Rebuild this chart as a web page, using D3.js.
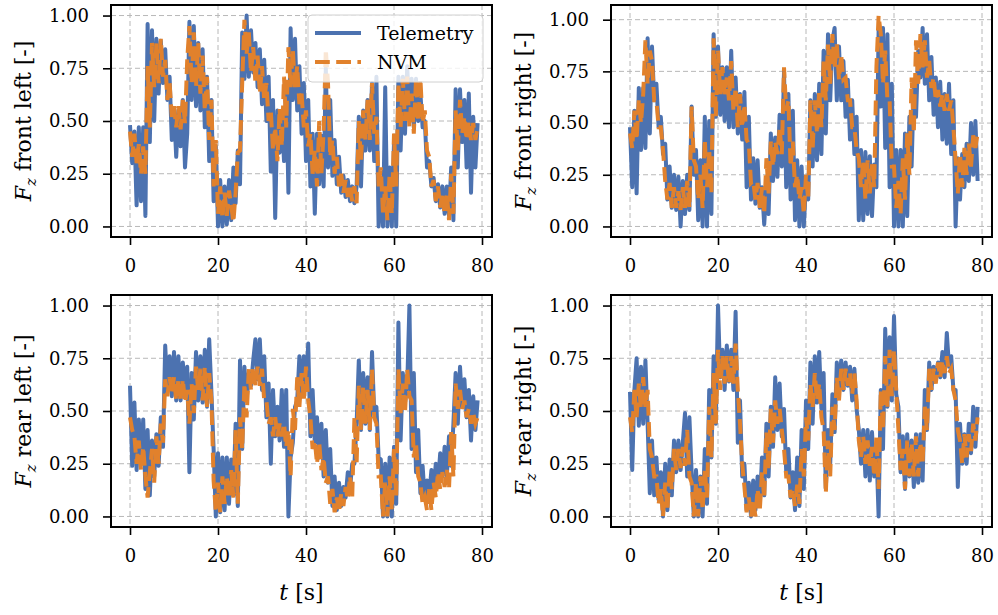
<!DOCTYPE html>
<html>
<head>
<meta charset="utf-8">
<script src="https://cdn.jsdelivr.net/npm/d3@7"></script>
<style>
  html, body { margin: 0; padding: 0; background: #ffffff; }
  svg { display: block; }
  text { font-family: "DejaVu Serif", "Liberation Serif", serif; fill: #000; }
</style>
</head>
<body>
<svg id="chart" width="998" height="615"></svg>
<script>
// ---- data (sampled every 0.5 s, t = 0 ... 79 s) ----
const sampleStep = 0.5;
const xTicks = [0, 20, 40, 60, 80];
const yTicks = [0, 0.25, 0.5, 0.75, 1.0];
const seriesNames = ["Telemetry", "NVM"];
const panelLabels = ["front left", "front right", "rear left", "rear right"];
const timeLabel = "t";
const timeUnit = "[s]";

const telemetryFL = [
0.48,0.30,0.45,0.10,0.47,0.12,0.47,0.05,0.96,0.40,
0.93,0.50,0.89,0.63,0.88,0.68,0.84,0.60,0.71,0.41,
0.55,0.33,0.55,0.38,0.60,0.28,0.44,0.97,0.60,0.95,
0.57,0.87,0.55,0.84,0.47,0.71,0.31,0.60,0.12,0.38,
0.00,0.22,0.00,0.19,0.01,0.22,0.03,0.28,0.11,0.36,
0.20,0.92,0.70,1.00,0.71,0.93,0.73,0.87,0.66,0.84,
0.58,0.79,0.50,0.71,0.26,0.60,0.04,0.55,0.35,0.54,
0.31,0.68,0.16,0.94,0.60,0.89,0.55,0.76,0.44,0.68,
0.31,0.60,0.19,0.44,0.06,0.44,0.20,0.43,0.19,0.75,
0.28,0.60,0.24,0.41,0.20,0.33,0.16,0.24,0.14,0.22,
0.12,0.19,0.11,0.19,0.52,0.19,0.55,0.36,0.60,0.36,
0.68,0.31,0.71,0.00,0.23,0.00,0.66,0.00,0.28,0.00,
0.40,0.00,0.71,0.36,0.71,0.44,0.76,0.52,0.70,0.47,
0.70,0.50,0.63,0.47,0.50,0.28,0.31,0.19,0.23,0.12,
0.20,0.09,0.19,0.06,0.19,0.05,0.28,0.03,0.65,0.28,
0.65,0.40,0.60,0.28,0.63,0.16,0.52,0.28,0.49
];
const nvmFL = [
0.45,0.33,0.44,0.30,0.39,0.25,0.38,0.25,0.76,0.47,
0.87,0.66,0.87,0.68,0.89,0.71,0.79,0.60,0.68,0.52,
0.57,0.47,0.57,0.46,0.60,0.49,0.79,0.95,0.68,0.92,
0.66,0.87,0.63,0.81,0.55,0.71,0.41,0.60,0.19,0.41,
0.06,0.19,0.04,0.16,0.05,0.17,0.10,0.02,0.16,0.35,
0.36,0.68,0.98,0.82,0.92,0.73,0.85,0.68,0.81,0.63,
0.76,0.60,0.68,0.50,0.55,0.36,0.47,0.31,0.56,0.38,
0.71,0.47,0.85,0.66,0.84,0.66,0.76,0.58,0.63,0.47,
0.55,0.38,0.44,0.25,0.36,0.19,0.50,0.25,0.45,0.84,
0.68,0.33,0.41,0.25,0.33,0.19,0.25,0.16,0.22,0.14,
0.19,0.12,0.19,0.11,0.50,0.31,0.55,0.41,0.60,0.41,
0.68,0.44,0.52,0.19,0.28,0.06,0.19,0.03,0.25,0.06,
0.44,0.19,0.68,0.47,0.70,0.50,0.71,0.47,0.63,0.44,
0.70,0.50,0.70,0.49,0.55,0.36,0.33,0.19,0.22,0.12,
0.19,0.09,0.16,0.06,0.16,0.03,0.25,0.06,0.55,0.36,
0.60,0.44,0.52,0.41,0.50,0.41,0.49,0.41,0.47
];
const telemetryFR = [
0.48,0.19,0.56,0.16,0.67,0.37,0.67,0.38,0.91,0.45,
0.87,0.61,0.69,0.48,0.53,0.35,0.40,0.13,0.29,0.09,
0.25,0.08,0.24,0.00,0.22,0.06,0.25,0.08,0.58,0.25,
0.37,0.03,0.32,0.00,0.53,0.00,0.51,0.06,0.93,0.53,
0.87,0.54,0.77,0.51,0.77,0.48,0.85,0.48,0.72,0.45,
0.64,0.42,0.65,0.19,0.53,0.13,0.33,0.11,0.32,0.09,
0.19,0.01,0.19,0.06,0.45,0.22,0.43,0.24,0.54,0.29,
0.75,0.19,0.64,0.13,0.56,0.03,0.32,0.00,0.29,0.00,
0.21,0.13,0.61,0.29,0.64,0.32,0.69,0.35,0.85,0.45,
0.93,0.61,0.90,0.96,0.61,0.87,0.61,0.80,0.53,0.71,
0.42,0.61,0.35,0.53,0.03,0.37,0.03,0.36,0.06,0.34,
0.05,0.30,0.19,0.95,0.58,0.96,0.38,0.93,0.19,0.69,
0.00,0.37,0.00,0.37,0.00,0.45,0.05,0.53,0.29,0.69,
0.53,0.85,0.72,0.96,0.69,0.93,0.61,0.82,0.54,0.72,
0.48,0.70,0.42,0.64,0.40,0.69,0.35,0.61,0.00,0.33,
0.13,0.35,0.19,0.40,0.22,0.50,0.25,0.51,0.22
];
const nvmFR = [
0.45,0.38,0.56,0.42,0.61,0.50,0.64,0.90,0.69,0.85,
0.80,0.61,0.61,0.48,0.48,0.37,0.22,0.13,0.21,0.09,
0.19,0.09,0.17,0.08,0.19,0.09,0.22,0.09,0.58,0.32,
0.29,0.13,0.25,0.09,0.42,0.19,0.37,0.16,0.91,0.53,
0.85,0.64,0.77,0.64,0.72,0.61,0.80,0.56,0.67,0.48,
0.64,0.48,0.59,0.42,0.40,0.21,0.22,0.13,0.21,0.09,
0.19,0.06,0.33,0.16,0.41,0.29,0.41,0.35,0.48,0.35,
0.77,0.56,0.61,0.29,0.41,0.19,0.25,0.13,0.19,0.06,
0.25,0.13,0.61,0.37,0.61,0.45,0.66,0.48,0.80,0.61,
0.88,0.69,0.93,0.77,0.88,0.71,0.83,0.71,0.72,0.61,
0.61,0.48,0.48,0.37,0.33,0.19,0.32,0.13,0.32,0.16,
0.30,0.19,0.77,1.02,0.93,0.69,0.85,0.61,0.61,0.29,
0.29,0.09,0.22,0.06,0.33,0.13,0.45,0.25,0.72,0.45,
0.90,0.69,0.93,0.77,0.90,0.72,0.80,0.67,0.72,0.61,
0.66,0.58,0.64,0.56,0.64,0.56,0.61,0.48,0.32,0.16,
0.35,0.19,0.38,0.25,0.40,0.29,0.44,0.38,0.45
];
const telemetryRL = [
0.62,0.24,0.54,0.22,0.46,0.25,0.46,0.13,0.41,0.10,
0.36,0.19,0.39,0.24,0.47,0.33,0.81,0.60,0.76,0.57,
0.78,0.55,0.76,0.55,0.73,0.60,0.71,0.21,0.68,0.46,
0.78,0.55,0.76,0.54,0.79,0.52,0.84,0.59,0.32,0.00,
0.30,0.02,0.28,0.03,0.28,0.06,0.27,0.10,0.44,0.05,
0.74,0.32,0.71,0.55,0.68,0.62,0.74,0.84,0.65,0.84,
0.60,0.76,0.47,0.63,0.25,0.60,0.38,0.52,0.36,0.60,
0.33,0.60,0.00,0.28,0.35,0.52,0.55,0.76,0.58,0.76,
0.60,0.82,0.38,0.60,0.35,0.47,0.28,0.44,0.19,0.41,
0.16,0.32,0.05,0.19,0.03,0.16,0.05,0.14,0.09,0.21,
0.13,0.25,0.25,0.44,0.74,0.41,0.68,0.44,0.66,0.41,
0.78,0.49,0.52,0.28,0.27,0.00,0.25,0.00,0.28,0.00,
0.33,0.06,0.92,0.36,0.68,0.54,0.62,1.00,0.32,0.68,
0.21,0.41,0.11,0.24,0.08,0.17,0.10,0.22,0.13,0.25,
0.16,0.30,0.19,0.33,0.19,0.38,0.24,0.44,0.68,0.44,
0.71,0.52,0.65,0.47,0.60,0.36,0.57,0.41,0.55
];
const nvmRL = [
0.47,0.41,0.38,0.25,0.36,0.22,0.33,0.19,0.09,0.21,
0.32,0.16,0.38,0.25,0.44,0.35,0.65,0.57,0.66,0.58,
0.66,0.55,0.65,0.55,0.65,0.54,0.60,0.44,0.63,0.49,
0.71,0.60,0.70,0.55,0.71,0.52,0.68,0.55,0.17,0.02,
0.16,0.02,0.19,0.06,0.19,0.09,0.22,0.09,0.41,0.06,
0.47,0.32,0.63,0.47,0.70,0.60,0.71,0.62,0.71,0.62,
0.70,0.55,0.55,0.44,0.47,0.38,0.47,0.38,0.44,0.38,
0.44,0.33,0.41,0.19,0.51,0.41,0.66,0.52,0.68,0.55,
0.71,0.55,0.47,0.32,0.36,0.25,0.35,0.22,0.28,0.16,
0.19,0.06,0.13,0.02,0.09,0.02,0.11,0.05,0.14,0.08,
0.19,0.09,0.47,0.25,0.62,0.41,0.62,0.44,0.60,0.41,
0.70,0.47,0.44,0.19,0.19,0.00,0.16,0.00,0.19,0.03,
0.32,0.09,0.70,0.49,0.63,0.49,0.70,0.57,0.55,0.28,
0.35,0.19,0.16,0.06,0.09,0.03,0.13,0.03,0.16,0.09,
0.21,0.13,0.21,0.14,0.22,0.13,0.40,0.19,0.63,0.51,
0.60,0.51,0.55,0.47,0.51,0.44,0.49,0.44,0.47
];
const telemetryRR = [
0.59,0.22,0.60,0.75,0.43,0.71,0.44,0.74,0.44,0.11,
0.36,0.10,0.28,0.08,0.21,0.00,0.25,0.03,0.27,0.10,
0.36,0.21,0.36,0.22,0.35,0.49,0.19,0.47,0.21,0.00,
0.22,0.00,0.19,0.00,0.32,0.06,0.60,0.28,0.76,0.44,
1.00,0.66,0.79,0.60,0.81,0.64,0.79,0.60,0.97,0.35,
0.55,0.19,0.25,0.03,0.16,0.00,0.17,0.03,0.19,0.06,
0.28,0.10,0.44,0.19,0.52,0.33,0.66,0.41,0.63,0.38,
0.51,0.21,0.32,0.09,0.21,0.03,0.28,0.05,0.41,0.13,
0.55,0.32,0.73,0.44,0.76,0.54,0.78,0.51,0.68,0.13,
0.41,0.25,0.58,0.40,0.73,0.60,0.74,0.60,0.73,0.62,
0.71,0.55,0.70,0.51,0.41,0.25,0.41,0.19,0.41,0.17,
0.40,0.19,0.32,0.00,0.60,0.32,0.89,0.52,0.85,0.55,
0.95,0.58,0.52,0.21,0.38,0.13,0.39,0.19,0.36,0.14,
0.39,0.16,0.39,0.17,0.60,0.41,0.73,0.60,0.71,0.65,
0.73,0.66,0.78,0.66,0.87,0.71,0.76,0.60,0.60,0.14,
0.44,0.25,0.39,0.25,0.44,0.30,0.52,0.33,0.52
];
const nvmRR = [
0.47,0.40,0.60,0.47,0.63,0.51,0.66,0.52,0.60,0.32,
0.28,0.19,0.19,0.06,0.13,0.00,0.16,0.03,0.22,0.13,
0.32,0.22,0.32,0.23,0.33,0.24,0.41,0.19,0.16,0.00,
0.16,0.00,0.19,0.03,0.22,0.09,0.52,0.28,0.68,0.44,
0.79,0.60,0.76,0.63,0.76,0.63,0.76,0.63,0.82,0.60,
0.44,0.25,0.14,0.02,0.09,0.00,0.08,0.00,0.13,0.03,
0.21,0.09,0.40,0.22,0.51,0.35,0.55,0.44,0.51,0.41,
0.32,0.19,0.19,0.09,0.13,0.05,0.15,0.06,0.32,0.19,
0.47,0.36,0.63,0.52,0.68,0.55,0.63,0.47,0.41,0.11,
0.36,0.19,0.52,0.41,0.66,0.55,0.70,0.60,0.70,0.62,
0.68,0.58,0.68,0.55,0.36,0.28,0.38,0.25,0.36,0.24,
0.33,0.19,0.38,0.13,0.60,0.41,0.76,0.52,0.79,0.57,
0.79,0.60,0.41,0.22,0.32,0.13,0.36,0.19,0.35,0.19,
0.38,0.19,0.35,0.25,0.52,0.41,0.70,0.60,0.70,0.63,
0.73,0.66,0.74,0.68,0.76,0.68,0.70,0.60,0.55,0.41,
0.36,0.25,0.39,0.28,0.39,0.31,0.44,0.36,0.47
];

// ---- layout / style ----
const colors = { tel: "#4c72b0", nvm: "#e1812c" };
const lineW = 4;
const panels = [
  { tel: telemetryFL, nvm: nvmFL, label: panelLabels[0], x0: 111, x1: 492, y0: 5,   y1: 237, legend: true },
  { tel: telemetryFR, nvm: nvmFR, label: panelLabels[1], x0: 611, x1: 992, y0: 5,   y1: 237 },
  { tel: telemetryRL, nvm: nvmRL, label: panelLabels[2], x0: 111, x1: 492, y0: 295, y1: 527, xlabel: true },
  { tel: telemetryRR, nvm: nvmRR, label: panelLabels[3], x0: 611, x1: 992, y0: 295, y1: 527, xlabel: true }
];

const svg = d3.select("#chart");
svg.append("rect").attr("width", 998).attr("height", 615).attr("fill", "#fff");

panels.forEach(p => {
  const g = svg.append("g");
  const x = d3.scaleLinear().domain([-4.32, 82.27]).range([p.x0, p.x1]);
  const ext = d3.extent(p.tel.concat(p.nvm));
  const pad = (ext[1] - ext[0]) * 0.05;
  const y = d3.scaleLinear().domain([ext[0] - pad, ext[1] + pad]).range([p.y1, p.y0]);

  // grid
  g.append("g").selectAll("line").data(xTicks).join("line")
    .attr("x1", d => x(d)).attr("x2", d => x(d)).attr("y1", p.y0).attr("y2", p.y1)
    .attr("stroke", "#b8b8b8").attr("stroke-width", 1).attr("stroke-dasharray", "5,3");
  g.append("g").selectAll("line").data(yTicks).join("line")
    .attr("y1", d => y(d)).attr("y2", d => y(d)).attr("x1", p.x0).attr("x2", p.x1)
    .attr("stroke", "#b8b8b8").attr("stroke-width", 1).attr("stroke-dasharray", "5,3");

  const line = d3.line().x((d, i) => x(i * sampleStep)).y(d => y(d));
  g.append("path").datum(p.tel).attr("d", line)
    .attr("fill", "none").attr("stroke", colors.tel).attr("stroke-width", lineW)
    .attr("stroke-linejoin", "round");
  g.append("path").datum(p.nvm).attr("d", line)
    .attr("fill", "none").attr("stroke", colors.nvm).attr("stroke-width", lineW)
    .attr("stroke-dasharray", "14.8,6.4");

  // axes
  const ax = g.append("g").attr("transform", `translate(0,${p.y1})`)
    .call(d3.axisBottom(x).tickValues(xTicks).tickFormat(d3.format("d")).tickSize(8).tickPadding(14));
  const ay = g.append("g").attr("transform", `translate(${p.x0},0)`)
    .call(d3.axisLeft(y).tickValues(yTicks).tickFormat(d3.format(".2f")).tickSize(8).tickPadding(14));
  [ax, ay].forEach(a => {
    a.select(".domain").remove();
    a.selectAll(".tick line").attr("stroke", "#000").attr("stroke-width", 1.6);
    a.selectAll(".tick text").attr("font-family", "DejaVu Serif").attr("font-size", 18).attr("fill", "#000");
  });

  // frame
  g.append("rect").attr("x", p.x0).attr("y", p.y0).attr("width", p.x1 - p.x0).attr("height", p.y1 - p.y0)
    .attr("fill", "none").attr("stroke", "#000").attr("stroke-width", 2);

  // y label
  const cy = (p.y0 + p.y1) / 2;
  const yl = g.append("text").attr("transform", `translate(${p.x0 - 80},${cy}) rotate(-90)`)
    .attr("text-anchor", "middle").attr("font-size", 22);
  yl.append("tspan").attr("font-style", "italic").text("F");
  yl.append("tspan").attr("font-style", "italic").attr("font-size", 15).attr("dy", 5).text("z");
  yl.append("tspan").attr("dy", -5).text(" " + p.label + " [-]");

  if (p.xlabel) {
    const xl = svg.append("text").attr("x", (p.x0 + p.x1) / 2).attr("y", 600)
      .attr("text-anchor", "middle").attr("font-size", 22);
    xl.append("tspan").attr("font-style", "italic").text(timeLabel);
    xl.append("tspan").text(" " + timeUnit);
  }

  if (p.legend) {
    const lg = svg.append("g");
    lg.append("rect").attr("x", 308).attr("y", 15).attr("width", 175).attr("height", 67).attr("rx", 4)
      .attr("fill", "#fff").attr("fill-opacity", 0.8).attr("stroke", "#d0d0d0").attr("stroke-width", 1);
    lg.append("line").attr("x1", 315).attr("x2", 361).attr("y1", 33).attr("y2", 33)
      .attr("stroke", colors.tel).attr("stroke-width", lineW);
    lg.append("line").attr("x1", 315).attr("x2", 361).attr("y1", 62).attr("y2", 62)
      .attr("stroke", colors.nvm).attr("stroke-width", lineW).attr("stroke-dasharray", "14.8,6.4");
    lg.append("text").attr("x", 377).attr("y", 40).attr("font-size", 19).text(seriesNames[0]);
    lg.append("text").attr("x", 377).attr("y", 69).attr("font-size", 19).text(seriesNames[1]);
  }
});
</script>
</body>
</html>
